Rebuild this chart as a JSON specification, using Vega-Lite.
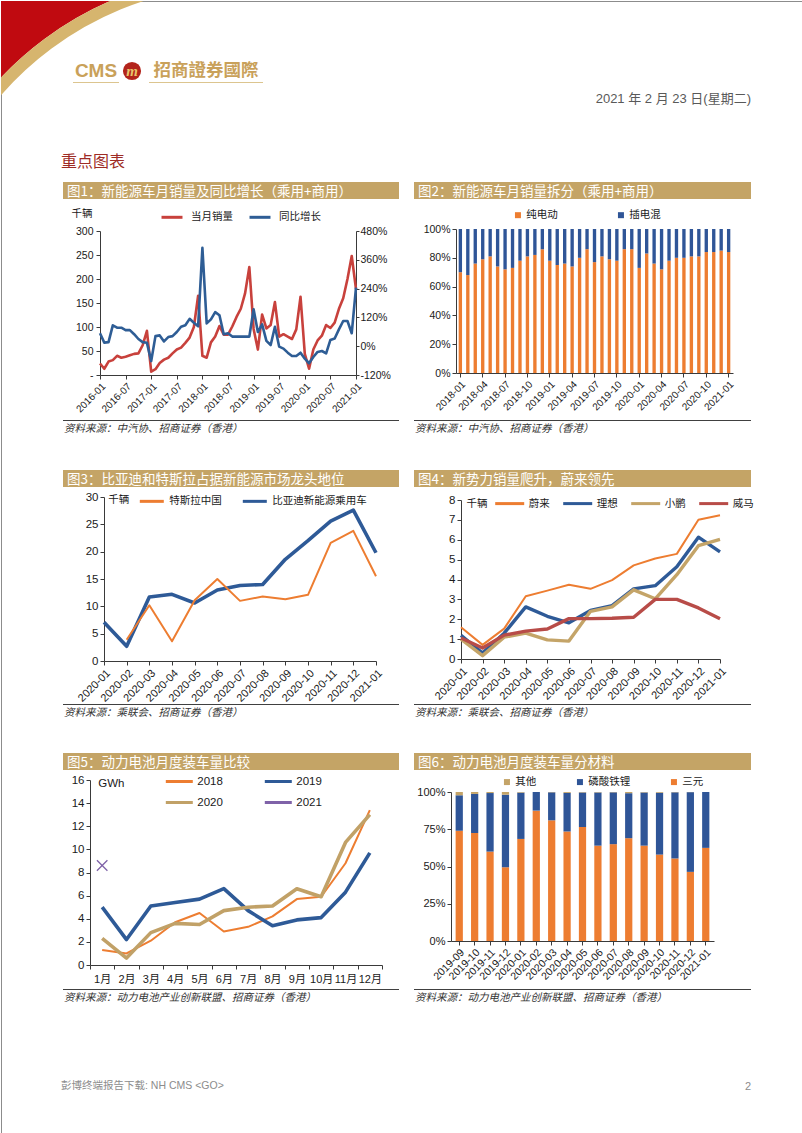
{
"$schema": "https://vega.github.io/schema/vega-lite/v6.json",
"padding": 0,
"background": "white",
"config": {
  "view": {"stroke": null},
  "font": "Liberation Sans, Noto Sans CJK SC",
  "axis": {"labelFont": "Liberation Sans", "labelColor": "#1a1a1a", "domainColor": "#3a3a3a", "tickColor": "#3a3a3a", "grid": false, "labelFontSize": 10.5, "tickSize": 4, "labelPadding": 2, "titleFont": "Noto Sans CJK SC", "labelOverlap": false},
  "legend": {"labelFont": "Noto Sans CJK SC", "labelFontSize": 10.5, "labelColor": "#1a1a1a", "titleFont": "Noto Sans CJK SC", "titleFontWeight": "normal", "titleColor": "#1a1a1a", "padding": 0},
  "title": {"font": "Noto Sans CJK SC", "fontWeight": "normal", "anchor": "start", "frame": "group"}
},
"columns": 5,
"align": "each",
"bounds": "flush",
"spacing": 0,
"resolve": {"scale": {"color": "independent"}, "legend": {"color": "independent"}},
"concat": [
  {
    "columns": 8, "align": "each", "bounds": "flush", "spacing": 0,
    "concat": [
      {"columns": 2, "bounds": "flush", "spacing": 0, "concat": [
        {"bounds": "flush", "spacing": 0, "concat": [
          {"width": 801, "height": 1132, "view": {"stroke": "#8C8C8C", "strokeWidth": 1}, "data": {"values": []}, "mark": "text"}
        ]},
        {"width": 486, "height": 614, "data": {"values": [{"part": "corner"}]}, "layer": [
          {"mark": {"type": "arc", "theta": 5.15, "theta2": 6.14, "radius": 420, "radius2": 335, "color": "#C00A10", "clip": true}},
          {"mark": {"type": "arc", "theta": 5.15, "theta2": 6.14, "radius": 335, "radius2": 323, "color": "#D6B56E", "clip": true}}
        ]}
      ]},
      {"width":12,"height":59,"data":{"values":[]},"mark":"text"},
      {"width":46,"height":1,"data":{"values":[]},"mark":"text"},
      {"width":26,"height":1,"data":{"values":[]},"mark":"text"},
      {"width":4,"height":1,"data":{"values":[]},"mark":"text"},
      {"width":114,"height":1,"data":{"values":[]},"mark":"text"},
      {"width":488,"height":1,"data":{"values":[]},"mark":"text"},
      {"width":52,"height":1,"data":{"values":[]},"mark":"text"},

      {"width":60,"height":22,"data":{"values":[]},"mark":"text"},
      {"width":12,"height":1,"data":{"values":[]},"mark":"text"},
      {"width": 46, "height": 22, "data": {"values": [{"t": "CMS"}]}, "mark": {"type": "text", "font": "Liberation Sans", "fontSize": 19, "fontWeight": "bold", "color": "#C9A15A", "baseline": "middle"}, "encoding": {"text": {"field": "t"}}},
      {"width": 26, "height": 22, "data": {"values": [{"t": "m"}]}, "layer": [
        {"mark": {"type": "circle", "size": 330, "color": "#B3241B", "opacity": 1}},
        {"mark": {"type": "text", "font": "Liberation Serif", "fontSize": 15, "fontStyle": "italic", "fontWeight": "bold", "color": "#E9C56B", "baseline": "middle"}, "encoding": {"text": {"field": "t"}}}
      ]},
      {"width":4,"height":1,"data":{"values":[]},"mark":"text"},
      {"width": 114, "height": 22, "data": {"values": [{"t": "招商證券國際"}]}, "mark": {"type": "text", "font": "Noto Sans CJK TC", "fontSize": 17.5, "fontWeight": "bold", "color": "#C9A15A", "baseline": "middle"}, "encoding": {"text": {"field": "t"}}},
      {"width":488,"height":1,"data":{"values":[]},"mark":"text"},
      {"width":52,"height":1,"data":{"values":[]},"mark":"text"},

      {"width":60,"height":1,"data":{"values":[]},"mark":"text"},
      {"width":12,"height":1,"data":{"values":[]},"mark":"text"},
      {"width":46,"height":1,"view":{"fill":"#DCC58F"},"data":{"values":[]},"mark":"text"},
      {"width":26,"height":1,"data":{"values":[]},"mark":"text"},
      {"width":4,"height":1,"data":{"values":[]},"mark":"text"},
      {"width":114,"height":1,"view":{"fill":"#DCC58F"},"data":{"values":[]},"mark":"text"},
      {"width":488,"height":1,"data":{"values":[]},"mark":"text"},
      {"width":52,"height":1,"data":{"values":[]},"mark":"text"},

      {"width":60,"height":23,"data":{"values":[]},"mark":"text"},
      {"width":12,"height":1,"data":{"values":[]},"mark":"text"},
      {"width":46,"height":1,"data":{"values":[]},"mark":"text"},
      {"width":26,"height":1,"data":{"values":[]},"mark":"text"},
      {"width":4,"height":1,"data":{"values":[]},"mark":"text"},
      {"width":114,"height":1,"data":{"values":[]},"mark":"text"},
      {"width":488,"height":1,"data":{"values":[]},"mark":"text"},
      {"width":52,"height":1,"data":{"values":[]},"mark":"text"},

      {"width":60,"height":64,"data":{"values":[]},"mark":"text"},
      {"width":12,"height":1,"data":{"values":[]},"mark":"text"},
      {"width":46,"height":1,"data":{"values":[]},"mark":"text"},
      {"width":26,"height":1,"data":{"values":[]},"mark":"text"},
      {"width":4,"height":1,"data":{"values":[]},"mark":"text"},
      {"width":114,"height":1,"data":{"values":[]},"mark":"text"},
      {"width":488,"height":64,"data":{"values":[]},"mark":"text","title":{"text":"2021 年 2 月 23 日(星期二)","orient":"top","anchor":"end","offset":0.5,"fontSize":13,"color":"#595959","font":"Liberation Sans, Noto Sans CJK SC"}},
      {"width":52,"height":1,"data":{"values":[]},"mark":"text"},

      {"width":60,"height":12,"data":{"values":[]},"mark":"text"},
      {"width":12,"height":12,"data":{"values":[]},"mark":"text","title":{"text":"重点图表","orient":"top","anchor":"start","offset":0,"fontSize":16,"color":"#9E2B25"}},
      {"width":46,"height":1,"data":{"values":[]},"mark":"text"},
      {"width":26,"height":1,"data":{"values":[]},"mark":"text"},
      {"width":4,"height":1,"data":{"values":[]},"mark":"text"},
      {"width":114,"height":1,"data":{"values":[]},"mark":"text"},
      {"width":488,"height":1,"data":{"values":[]},"mark":"text"},
      {"width":52,"height":1,"data":{"values":[]},"mark":"text"}
    ]
  },
  {"width":336,"height":181,"data":{"values":[]},"mark":"text"},
  {"width":15,"height":1,"data":{"values":[]},"mark":"text"},
  {"width":337,"height":1,"data":{"values":[]},"mark":"text"},
  {"width":52,"height":1,"data":{"values":[]},"mark":"text"},

  {"width":62,"height":808,"data":{"values":[]},"mark":"text"},
  {
    "vconcat": [
      {"width":336,"height":17,"view":{"fill":"#C4A466"},"data":{"values":[]},"mark":"text"},
      {"width":336,"height":32,"data":{"values":[]},"mark":"text","title":{"text":"图1：新能源车月销量及同比增长（乘用+商用）","orient":"top","offset":1,"dx":4,"color":"white","fontSize":13.5}},
      {
        "width": 293, "height": 144,
        "data": {"values": [
          {"m":"2016-01","v":24,"g":54},{"m":"2016-02","v":13,"g":15},{"m":"2016-03","v":28,"g":17},{"m":"2016-04","v":31,"g":87},{"m":"2016-05","v":40,"g":77},{"m":"2016-06","v":36,"g":77},{"m":"2016-07","v":38,"g":67},{"m":"2016-08","v":41,"g":67},{"m":"2016-09","v":44,"g":50},{"m":"2016-10","v":45,"g":30},{"m":"2016-11","v":62,"g":17},{"m":"2016-12","v":92,"g":14},
          {"m":"2017-01","v":7,"g":-62},{"m":"2017-02","v":12,"g":42},{"m":"2017-03","v":25,"g":45},{"m":"2017-04","v":32,"g":20},{"m":"2017-05","v":36,"g":38},{"m":"2017-06","v":45,"g":42},{"m":"2017-07","v":53,"g":59},{"m":"2017-08","v":57,"g":81},{"m":"2017-09","v":67,"g":87},{"m":"2017-10","v":78,"g":114},{"m":"2017-11","v":100,"g":98},{"m":"2017-12","v":165,"g":83},
          {"m":"2018-01","v":40,"g":410},{"m":"2018-02","v":36,"g":95},{"m":"2018-03","v":68,"g":112},{"m":"2018-04","v":80,"g":142},{"m":"2018-05","v":102,"g":129},{"m":"2018-06","v":84,"g":50},{"m":"2018-07","v":84,"g":54},{"m":"2018-08","v":101,"g":40},{"m":"2018-09","v":121,"g":40},{"m":"2018-10","v":138,"g":40},{"m":"2018-11","v":170,"g":40},{"m":"2018-12","v":225,"g":40},
          {"m":"2019-01","v":96,"g":154},{"m":"2019-02","v":53,"g":59},{"m":"2019-03","v":126,"g":91},{"m":"2019-04","v":97,"g":22},{"m":"2019-05","v":104,"g":5},{"m":"2019-06","v":152,"g":81},{"m":"2019-07","v":80,"g":-2},{"m":"2019-08","v":85,"g":-10},{"m":"2019-09","v":80,"g":-27},{"m":"2019-10","v":75,"g":-41},{"m":"2019-11","v":95,"g":-41},{"m":"2019-12","v":163,"g":-27},
          {"m":"2020-01","v":44,"g":-52},{"m":"2020-02","v":13,"g":-71},{"m":"2020-03","v":53,"g":-45},{"m":"2020-04","v":72,"g":-24},{"m":"2020-05","v":82,"g":-20},{"m":"2020-06","v":104,"g":-30},{"m":"2020-07","v":98,"g":26},{"m":"2020-08","v":109,"g":32},{"m":"2020-09","v":138,"g":70},{"m":"2020-10","v":160,"g":105},{"m":"2020-11","v":200,"g":105},{"m":"2020-12","v":248,"g":54},
          {"m":"2021-01","v":179,"g":244}
        ]},
        "encoding": {"x": {"field": "m", "type": "ordinal", "scale": {"type": "point", "padding": 0, "range": [37, 293]}, "axis": {"title": null, "values": ["2016-01","2016-07","2017-01","2017-07","2018-01","2018-07","2019-01","2019-07","2020-01","2020-07","2021-01"], "labelAngle": -45, "labelFontSize": 10}}},
        "layer": [
          {"mark": {"type": "line", "strokeWidth": 2.6, "strokeJoin": "round"},
           "encoding": {
             "y": {"field": "v", "type": "quantitative", "scale": {"domain": [0, 300], "nice": false, "zero": false},
                   "axis": {"offset": -37, "values": [0,50,100,150,200,250,300], "labelExpr": "datum.value === 0 ? '-' : datum.label", "labelPadding": 3, "title": "千辆", "titleAngle": 0, "titleAlign": "left", "titleBaseline": "middle", "titleX": -29, "titleY": -18, "titleFontSize": 10.5, "titleFontWeight": "normal", "titleColor": "#1a1a1a"}},
             "color": {"datum": "当月销量", "type": "nominal", "scale": {"domain": ["当月销量", "同比增长"], "range": ["#C8413C", "#2E5D95"]},
               "legend": {"orient": "none", "legendX": 97, "legendY": -25.7, "direction": "horizontal", "title": null, "symbolType": "stroke", "symbolSize": 440, "symbolStrokeWidth": 3, "labelOffset": 7, "columnPadding": 10, "labelFontSize": 10.5}}
           }},
          {"mark": {"type": "line", "strokeWidth": 2.6, "strokeJoin": "round"},
           "encoding": {
             "y": {"field": "g", "type": "quantitative", "scale": {"domain": [-120, 480], "nice": false, "zero": false},
                   "axis": {"orient": "right", "values": [-120,0,120,240,360,480], "labelExpr": "datum.value + '%'", "title": null, "tickSize": 3, "labelPadding": 1}},
             "color": {"datum": "同比增长", "type": "nominal"}
           }}
        ],
        "resolve": {"scale": {"y": "independent"}}
      },
      {"width":336,"height":45,"data":{"values":[]},"mark":"text"},
      {"width":336,"height":1,"view":{"fill":"#404040"},"data":{"values":[]},"mark":"text","title":{"text":"资料来源：中汽协、招商证券（香港）","orient":"bottom","offset":2.5,"dx":1,"fontSize":10.5,"fontStyle":"italic","color":"#333333"}},
      {"width":336,"height":49,"data":{"values":[]},"mark":"text"},
      {"width":336,"height":17,"view":{"fill":"#C4A466"},"data":{"values":[]},"mark":"text"},
      {"width":336,"height":10,"data":{"values":[]},"mark":"text","title":{"text":"图3：比亚迪和特斯拉占据新能源市场龙头地位","orient":"top","offset":1,"dx":4,"color":"white","fontSize":13.5}},
      {
        "width": 313, "height": 164,
        "data": {"values": [
          {"m":"2020-01","s":"比亚迪新能源乘用车","v":7.1},{"m":"2020-02","s":"比亚迪新能源乘用车","v":2.7},{"m":"2020-03","s":"比亚迪新能源乘用车","v":11.7},{"m":"2020-04","s":"比亚迪新能源乘用车","v":12.2},{"m":"2020-05","s":"比亚迪新能源乘用车","v":10.6},{"m":"2020-06","s":"比亚迪新能源乘用车","v":13.0},{"m":"2020-07","s":"比亚迪新能源乘用车","v":13.8},{"m":"2020-08","s":"比亚迪新能源乘用车","v":14.0},{"m":"2020-09","s":"比亚迪新能源乘用车","v":18.6},{"m":"2020-10","s":"比亚迪新能源乘用车","v":22.0},{"m":"2020-11","s":"比亚迪新能源乘用车","v":25.6},{"m":"2020-12","s":"比亚迪新能源乘用车","v":27.6},{"m":"2021-01","s":"比亚迪新能源乘用车","v":19.8},
          {"m":"2020-02","s":"特斯拉中国","v":3.9},{"m":"2020-03","s":"特斯拉中国","v":10.2},{"m":"2020-04","s":"特斯拉中国","v":3.6},{"m":"2020-05","s":"特斯拉中国","v":11.1},{"m":"2020-06","s":"特斯拉中国","v":15.0},{"m":"2020-07","s":"特斯拉中国","v":11.0},{"m":"2020-08","s":"特斯拉中国","v":11.8},{"m":"2020-09","s":"特斯拉中国","v":11.3},{"m":"2020-10","s":"特斯拉中国","v":12.1},{"m":"2020-11","s":"特斯拉中国","v":21.6},{"m":"2020-12","s":"特斯拉中国","v":23.8},{"m":"2021-01","s":"特斯拉中国","v":15.5}
        ]},
        "mark": {"type": "line", "strokeJoin": "round"},
        "encoding": {
          "x": {"field": "m", "type": "ordinal", "scale": {"type": "point", "padding": 0, "range": [41, 313]}, "axis": {"title": null, "labelAngle": -45, "labelFontSize": 11}},
          "y": {"field": "v", "type": "quantitative", "scale": {"domain": [0, 30], "nice": false}, "axis": {"offset": -41, "values": [0,5,10,15,20,25,30], "labelFontSize": 11.5, "title": "千辆", "titleAngle": 0, "titleAlign": "left", "titleBaseline": "middle", "titleX": 3.7, "titleY": 2.3, "titleFontSize": 10.5, "titleFontWeight": "normal", "titleColor": "#1a1a1a"}},
          "color": {"field": "s", "type": "nominal", "scale": {"domain": ["特斯拉中国", "比亚迪新能源乘用车"], "range": ["#ED7D31", "#2E5A97"]},
            "legend": {"orient": "none", "legendX": 75.3, "legendY": -9.4, "direction": "horizontal", "title": null, "symbolType": "stroke", "symbolSize": 576, "symbolStrokeWidth": 3, "labelOffset": 4, "columnPadding": 14, "labelFontSize": 10.5}},
          "strokeWidth": {"condition": {"test": "datum.s === '比亚迪新能源乘用车'", "value": 3.6}, "value": 2}
        }
      },
      {"width":336,"height":43,"data":{"values":[]},"mark":"text"},
      {"width":336,"height":1,"view":{"fill":"#404040"},"data":{"values":[]},"mark":"text","title":{"text":"资料来源：乘联会、招商证券（香港）","orient":"bottom","offset":2.5,"dx":1,"fontSize":10.5,"fontStyle":"italic","color":"#333333"}},
      {"width":336,"height":48,"data":{"values":[]},"mark":"text"},
      {"width":336,"height":17,"view":{"fill":"#C4A466"},"data":{"values":[]},"mark":"text"},
      {"width":336,"height":10,"data":{"values":[]},"mark":"text","title":{"text":"图5：动力电池月度装车量比较","orient":"top","offset":1,"dx":4,"color":"white","fontSize":13.5}},
      {
        "width": 319, "height": 185,
        "data": {"values": [
          {"mo":"1月","yr":"2018","v":1.3},{"mo":"2月","yr":"2018","v":1.0},{"mo":"3月","yr":"2018","v":2.1},{"mo":"4月","yr":"2018","v":3.7},{"mo":"5月","yr":"2018","v":4.5},{"mo":"6月","yr":"2018","v":2.9},{"mo":"7月","yr":"2018","v":3.3},{"mo":"8月","yr":"2018","v":4.2},{"mo":"9月","yr":"2018","v":5.7},{"mo":"10月","yr":"2018","v":5.9},{"mo":"11月","yr":"2018","v":8.8},{"mo":"12月","yr":"2018","v":13.4},
          {"mo":"1月","yr":"2019","v":5.0},{"mo":"2月","yr":"2019","v":2.2},{"mo":"3月","yr":"2019","v":5.1},{"mo":"4月","yr":"2019","v":5.4},{"mo":"5月","yr":"2019","v":5.7},{"mo":"6月","yr":"2019","v":6.6},{"mo":"7月","yr":"2019","v":4.7},{"mo":"8月","yr":"2019","v":3.4},{"mo":"9月","yr":"2019","v":3.9},{"mo":"10月","yr":"2019","v":4.1},{"mo":"11月","yr":"2019","v":6.3},{"mo":"12月","yr":"2019","v":9.7},
          {"mo":"1月","yr":"2020","v":2.3},{"mo":"2月","yr":"2020","v":0.6},{"mo":"3月","yr":"2020","v":2.8},{"mo":"4月","yr":"2020","v":3.6},{"mo":"5月","yr":"2020","v":3.5},{"mo":"6月","yr":"2020","v":4.7},{"mo":"7月","yr":"2020","v":5.0},{"mo":"8月","yr":"2020","v":5.1},{"mo":"9月","yr":"2020","v":6.6},{"mo":"10月","yr":"2020","v":5.9},{"mo":"11月","yr":"2020","v":10.6},{"mo":"12月","yr":"2020","v":13.0},
          {"mo":"1月","yr":"2021","v":8.6}
        ]},
        "encoding": {
          "x": {"field": "mo", "type": "ordinal", "scale": {"type": "band", "domain": ["1月","2月","3月","4月","5月","6月","7月","8月","9月","10月","11月","12月"], "paddingInner": 0, "paddingOuter": 0, "range": [27, 319]}, "axis": {"title": null, "labelAngle": 0, "labelFontSize": 11, "tickBand": "extent", "labelFont": "Liberation Sans, Noto Sans CJK SC", "labelPadding": 4}},
          "y": {"field": "v", "type": "quantitative", "scale": {"domain": [0, 16], "nice": false}, "axis": {"offset": -27, "values": [0,2,4,6,8,10,12,14,16], "labelFontSize": 11.5, "title": "GWh", "titleFont": "Liberation Sans", "titleAngle": 0, "titleAlign": "left", "titleBaseline": "middle", "titleX": 7.7, "titleY": 3.3, "titleFontSize": 11.5, "titleFontWeight": "normal", "titleColor": "#1a1a1a"}},
          "color": {"field": "yr", "type": "nominal", "scale": {"domain": ["2018","2019","2020","2021"], "range": ["#ED7D31","#2E5A97","#C1A167","#7F62A8"]},
            "legend": {"orient": "none", "legendX": 101.3, "legendY": -13.5, "direction": "horizontal", "columns": 2, "title": null, "labelFont": "Liberation Sans", "labelFontSize": 11.5, "symbolType": "stroke", "symbolSize": 729, "symbolStrokeWidth": 3, "labelOffset": 3, "columnPadding": 35, "rowPadding": 0}}
        },
        "layer": [
          {"transform": [{"filter": "datum.yr !== '2021'"}], "mark": {"type": "line", "strokeJoin": "round"}, "encoding": {"strokeWidth": {"condition": {"test": "datum.yr === '2018'", "value": 2}, "value": 3.6}}},
          {"transform": [{"filter": "datum.yr === '2021'"}], "mark": {"type": "point", "shape": "M-1,-1L1,1M1,-1L-1,1", "filled": false, "size": 110, "strokeWidth": 1.3, "opacity": 1}}
        ]
      },
      {"width":336,"height":24,"data":{"values":[]},"mark":"text"},
      {"width":336,"height":1,"view":{"fill":"#404040"},"data":{"values":[]},"mark":"text","title":{"text":"资料来源：动力电池产业创新联盟、招商证券（香港）","orient":"bottom","offset":2.5,"dx":1,"fontSize":10.5,"fontStyle":"italic","color":"#333333"}}
    ],
    "bounds": "flush", "spacing": 0,
    "resolve": {"scale": {"color": "independent"}, "legend": {"color": "independent"}}
  },
  {"width":15,"height":1,"data":{"values":[]},"mark":"text"},
  {
    "vconcat": [
      {"width":337,"height":17,"view":{"fill":"#C4A466"},"data":{"values":[]},"mark":"text"},
      {"width":337,"height":30,"data":{"values":[]},"mark":"text","title":{"text":"图2：新能源车月销量拆分（乘用+商用）","orient":"top","offset":1,"dx":4,"color":"white","fontSize":13.5}},
      {
        "width": 319, "height": 144,
        "data": {"values": [
          {"m":"2018-01","t":"纯电动","v":70,"k":1},{"m":"2018-01","t":"插电混","v":30,"k":2},
          {"m":"2018-02","t":"纯电动","v":68,"k":1},{"m":"2018-02","t":"插电混","v":32,"k":2},
          {"m":"2018-03","t":"纯电动","v":76,"k":1},{"m":"2018-03","t":"插电混","v":24,"k":2},
          {"m":"2018-04","t":"纯电动","v":79,"k":1},{"m":"2018-04","t":"插电混","v":21,"k":2},
          {"m":"2018-05","t":"纯电动","v":81,"k":1},{"m":"2018-05","t":"插电混","v":19,"k":2},
          {"m":"2018-06","t":"纯电动","v":74,"k":1},{"m":"2018-06","t":"插电混","v":26,"k":2},
          {"m":"2018-07","t":"纯电动","v":72,"k":1},{"m":"2018-07","t":"插电混","v":28,"k":2},
          {"m":"2018-08","t":"纯电动","v":73,"k":1},{"m":"2018-08","t":"插电混","v":27,"k":2},
          {"m":"2018-09","t":"纯电动","v":78,"k":1},{"m":"2018-09","t":"插电混","v":22,"k":2},
          {"m":"2018-10","t":"纯电动","v":81,"k":1},{"m":"2018-10","t":"插电混","v":19,"k":2},
          {"m":"2018-11","t":"纯电动","v":82,"k":1},{"m":"2018-11","t":"插电混","v":18,"k":2},
          {"m":"2018-12","t":"纯电动","v":86,"k":1},{"m":"2018-12","t":"插电混","v":14,"k":2},
          {"m":"2019-01","t":"纯电动","v":78,"k":1},{"m":"2019-01","t":"插电混","v":22,"k":2},
          {"m":"2019-02","t":"纯电动","v":75,"k":1},{"m":"2019-02","t":"插电混","v":25,"k":2},
          {"m":"2019-03","t":"纯电动","v":76,"k":1},{"m":"2019-03","t":"插电混","v":24,"k":2},
          {"m":"2019-04","t":"纯电动","v":74,"k":1},{"m":"2019-04","t":"插电混","v":26,"k":2},
          {"m":"2019-05","t":"纯电动","v":80,"k":1},{"m":"2019-05","t":"插电混","v":20,"k":2},
          {"m":"2019-06","t":"纯电动","v":86,"k":1},{"m":"2019-06","t":"插电混","v":14,"k":2},
          {"m":"2019-07","t":"纯电动","v":77,"k":1},{"m":"2019-07","t":"插电混","v":23,"k":2},
          {"m":"2019-08","t":"纯电动","v":81,"k":1},{"m":"2019-08","t":"插电混","v":19,"k":2},
          {"m":"2019-09","t":"纯电动","v":79,"k":1},{"m":"2019-09","t":"插电混","v":21,"k":2},
          {"m":"2019-10","t":"纯电动","v":78,"k":1},{"m":"2019-10","t":"插电混","v":22,"k":2},
          {"m":"2019-11","t":"纯电动","v":86,"k":1},{"m":"2019-11","t":"插电混","v":14,"k":2},
          {"m":"2019-12","t":"纯电动","v":86,"k":1},{"m":"2019-12","t":"插电混","v":14,"k":2},
          {"m":"2020-01","t":"纯电动","v":73,"k":1},{"m":"2020-01","t":"插电混","v":27,"k":2},
          {"m":"2020-02","t":"纯电动","v":83,"k":1},{"m":"2020-02","t":"插电混","v":17,"k":2},
          {"m":"2020-03","t":"纯电动","v":76,"k":1},{"m":"2020-03","t":"插电混","v":24,"k":2},
          {"m":"2020-04","t":"纯电动","v":72,"k":1},{"m":"2020-04","t":"插电混","v":28,"k":2},
          {"m":"2020-05","t":"纯电动","v":78,"k":1},{"m":"2020-05","t":"插电混","v":22,"k":2},
          {"m":"2020-06","t":"纯电动","v":80,"k":1},{"m":"2020-06","t":"插电混","v":20,"k":2},
          {"m":"2020-07","t":"纯电动","v":80,"k":1},{"m":"2020-07","t":"插电混","v":20,"k":2},
          {"m":"2020-08","t":"纯电动","v":81,"k":1},{"m":"2020-08","t":"插电混","v":19,"k":2},
          {"m":"2020-09","t":"纯电动","v":81,"k":1},{"m":"2020-09","t":"插电混","v":19,"k":2},
          {"m":"2020-10","t":"纯电动","v":84,"k":1},{"m":"2020-10","t":"插电混","v":16,"k":2},
          {"m":"2020-11","t":"纯电动","v":84,"k":1},{"m":"2020-11","t":"插电混","v":16,"k":2},
          {"m":"2020-12","t":"纯电动","v":85,"k":1},{"m":"2020-12","t":"插电混","v":15,"k":2},
          {"m":"2021-01","t":"纯电动","v":84,"k":1},{"m":"2021-01","t":"插电混","v":16,"k":2}
        ]},
        "mark": {"type": "bar"},
        "encoding": {
          "x": {"field": "m", "type": "ordinal", "scale": {"paddingInner": 0.55, "paddingOuter": 0.36, "range": [42, 319]}, "axis": {"title": null, "values": ["2018-01","2018-04","2018-07","2018-10","2019-01","2019-04","2019-07","2019-10","2020-01","2020-04","2020-07","2020-10","2021-01"], "labelAngle": -45, "labelFontSize": 10}},
          "y": {"field": "v", "type": "quantitative", "stack": "zero", "scale": {"domain": [0, 100], "nice": false}, "axis": {"offset": -42, "title": null, "values": [0,20,40,60,80,100], "labelExpr": "datum.value + '%'"}},
          "color": {"field": "t", "type": "nominal", "scale": {"domain": ["纯电动", "插电混"], "range": ["#ED7D31", "#2F5597"]},
            "legend": {"orient": "none", "legendX": 98.7, "legendY": -19.2, "direction": "horizontal", "title": null, "symbolType": "square", "symbolSize": 36, "labelOffset": 3, "columnPadding": 58, "labelFontSize": 10.5}},
          "order": {"field": "k", "type": "quantitative"}
        }
      },
      {"width":337,"height":47,"data":{"values":[]},"mark":"text"},
      {"width":337,"height":1,"view":{"fill":"#404040"},"data":{"values":[]},"mark":"text","title":{"text":"资料来源：中汽协、招商证券（香港）","orient":"bottom","offset":2.5,"dx":1,"fontSize":10.5,"fontStyle":"italic","color":"#333333"}},
      {"width":337,"height":49,"data":{"values":[]},"mark":"text"},
      {"width":337,"height":17,"view":{"fill":"#C4A466"},"data":{"values":[]},"mark":"text"},
      {"width":337,"height":13,"data":{"values":[]},"mark":"text","title":{"text":"图4：新势力销量爬升，蔚来领先","orient":"top","offset":1,"dx":4,"color":"white","fontSize":13.5}},
      {
        "width": 306, "height": 159,
        "data": {"values": [
          {"m":"2020-01","s":"蔚来","v":1.6},{"m":"2020-02","s":"蔚来","v":0.71},{"m":"2020-03","s":"蔚来","v":1.53},{"m":"2020-04","s":"蔚来","v":3.16},{"m":"2020-05","s":"蔚来","v":3.44},{"m":"2020-06","s":"蔚来","v":3.74},{"m":"2020-07","s":"蔚来","v":3.53},{"m":"2020-08","s":"蔚来","v":3.97},{"m":"2020-09","s":"蔚来","v":4.71},{"m":"2020-10","s":"蔚来","v":5.06},{"m":"2020-11","s":"蔚来","v":5.29},{"m":"2020-12","s":"蔚来","v":7.01},{"m":"2021-01","s":"蔚来","v":7.23},
          {"m":"2020-01","s":"理想","v":1.19},{"m":"2020-02","s":"理想","v":0.3},{"m":"2020-03","s":"理想","v":1.3},{"m":"2020-04","s":"理想","v":2.62},{"m":"2020-05","s":"理想","v":2.15},{"m":"2020-06","s":"理想","v":1.82},{"m":"2020-07","s":"理想","v":2.44},{"m":"2020-08","s":"理想","v":2.69},{"m":"2020-09","s":"理想","v":3.53},{"m":"2020-10","s":"理想","v":3.69},{"m":"2020-11","s":"理想","v":4.64},{"m":"2020-12","s":"理想","v":6.13},{"m":"2021-01","s":"理想","v":5.39},
          {"m":"2020-01","s":"小鹏","v":1.0},{"m":"2020-02","s":"小鹏","v":0.17},{"m":"2020-03","s":"小鹏","v":1.1},{"m":"2020-04","s":"小鹏","v":1.3},{"m":"2020-05","s":"小鹏","v":0.96},{"m":"2020-06","s":"小鹏","v":0.9},{"m":"2020-07","s":"小鹏","v":2.4},{"m":"2020-08","s":"小鹏","v":2.62},{"m":"2020-09","s":"小鹏","v":3.48},{"m":"2020-10","s":"小鹏","v":3.03},{"m":"2020-11","s":"小鹏","v":4.24},{"m":"2020-12","s":"小鹏","v":5.7},{"m":"2021-01","s":"小鹏","v":6.02},
          {"m":"2020-01","s":"威马","v":1.06},{"m":"2020-02","s":"威马","v":0.55},{"m":"2020-03","s":"威马","v":1.2},{"m":"2020-04","s":"威马","v":1.4},{"m":"2020-05","s":"威马","v":1.51},{"m":"2020-06","s":"威马","v":2.03},{"m":"2020-07","s":"威马","v":2.03},{"m":"2020-08","s":"威马","v":2.05},{"m":"2020-09","s":"威马","v":2.1},{"m":"2020-10","s":"威马","v":3.0},{"m":"2020-11","s":"威马","v":3.0},{"m":"2020-12","s":"威马","v":2.57},{"m":"2021-01","s":"威马","v":2.03}
        ]},
        "mark": {"type": "line", "strokeJoin": "round"},
        "encoding": {
          "x": {"field": "m", "type": "ordinal", "scale": {"type": "point", "padding": 0, "range": [47, 306]}, "axis": {"title": null, "labelAngle": -45, "labelFontSize": 11}},
          "y": {"field": "v", "type": "quantitative", "scale": {"domain": [0, 8], "nice": false}, "axis": {"offset": -47, "values": [0,1,2,3,4,5,6,7,8], "labelFontSize": 11.5, "title": "千辆", "titleAngle": 0, "titleAlign": "left", "titleBaseline": "middle", "titleX": 5, "titleY": 3.3, "titleFontSize": 10.5, "titleFontWeight": "normal", "titleColor": "#1a1a1a"}},
          "color": {"field": "s", "type": "nominal", "scale": {"domain": ["蔚来", "理想", "小鹏", "威马"], "range": ["#ED7D31", "#2E5A97", "#C4A468", "#B84C48"]},
            "legend": {"orient": "none", "legendX": 79.7, "legendY": -12.4, "direction": "horizontal", "title": null, "symbolType": "stroke", "symbolSize": 841, "symbolStrokeWidth": 3, "labelOffset": 3, "columnPadding": 7, "labelFontSize": 10.5}},
          "strokeWidth": {"condition": {"test": "datum.s === '蔚来'", "value": 2}, "value": 3.4}
        }
      },
      {"width":337,"height":45,"data":{"values":[]},"mark":"text"},
      {"width":337,"height":1,"view":{"fill":"#404040"},"data":{"values":[]},"mark":"text","title":{"text":"资料来源：乘联会、招商证券（香港）","orient":"bottom","offset":2.5,"dx":1,"fontSize":10.5,"fontStyle":"italic","color":"#333333"}},
      {"width":337,"height":48,"data":{"values":[]},"mark":"text"},
      {"width":337,"height":17,"view":{"fill":"#C4A466"},"data":{"values":[]},"mark":"text"},
      {"width":337,"height":22,"data":{"values":[]},"mark":"text","title":{"text":"图6：动力电池月度装车量分材料","orient":"top","offset":1,"dx":4,"color":"white","fontSize":13.5}},
      {
        "width": 300, "height": 149,
        "data": {"values": [
          {"m":"2019-09","t":"三元","v":74,"k":1},{"m":"2019-09","t":"磷酸铁锂","v":23.8,"k":2},{"m":"2019-09","t":"其他","v":2.2,"k":3},
          {"m":"2019-10","t":"三元","v":72.5,"k":1},{"m":"2019-10","t":"磷酸铁锂","v":26.2,"k":2},{"m":"2019-10","t":"其他","v":1.3,"k":3},
          {"m":"2019-11","t":"三元","v":60,"k":1},{"m":"2019-11","t":"磷酸铁锂","v":39.3,"k":2},{"m":"2019-11","t":"其他","v":0.7,"k":3},
          {"m":"2019-12","t":"三元","v":49.5,"k":1},{"m":"2019-12","t":"磷酸铁锂","v":48.7,"k":2},{"m":"2019-12","t":"其他","v":1.8,"k":3},
          {"m":"2020-01","t":"三元","v":68.5,"k":1},{"m":"2020-01","t":"磷酸铁锂","v":31.1,"k":2},{"m":"2020-01","t":"其他","v":0.4,"k":3},
          {"m":"2020-02","t":"三元","v":87.5,"k":1},{"m":"2020-02","t":"磷酸铁锂","v":12.5,"k":2},{"m":"2020-02","t":"其他","v":0,"k":3},
          {"m":"2020-03","t":"三元","v":81,"k":1},{"m":"2020-03","t":"磷酸铁锂","v":18.8,"k":2},{"m":"2020-03","t":"其他","v":0.2,"k":3},
          {"m":"2020-04","t":"三元","v":73.5,"k":1},{"m":"2020-04","t":"磷酸铁锂","v":25.9,"k":2},{"m":"2020-04","t":"其他","v":0.6,"k":3},
          {"m":"2020-05","t":"三元","v":76.5,"k":1},{"m":"2020-05","t":"磷酸铁锂","v":23.2,"k":2},{"m":"2020-05","t":"其他","v":0.3,"k":3},
          {"m":"2020-06","t":"三元","v":64,"k":1},{"m":"2020-06","t":"磷酸铁锂","v":35.7,"k":2},{"m":"2020-06","t":"其他","v":0.3,"k":3},
          {"m":"2020-07","t":"三元","v":65,"k":1},{"m":"2020-07","t":"磷酸铁锂","v":34.8,"k":2},{"m":"2020-07","t":"其他","v":0.2,"k":3},
          {"m":"2020-08","t":"三元","v":69,"k":1},{"m":"2020-08","t":"磷酸铁锂","v":30.2,"k":2},{"m":"2020-08","t":"其他","v":0.8,"k":3},
          {"m":"2020-09","t":"三元","v":64,"k":1},{"m":"2020-09","t":"磷酸铁锂","v":35.7,"k":2},{"m":"2020-09","t":"其他","v":0.3,"k":3},
          {"m":"2020-10","t":"三元","v":58,"k":1},{"m":"2020-10","t":"磷酸铁锂","v":41.5,"k":2},{"m":"2020-10","t":"其他","v":0.5,"k":3},
          {"m":"2020-11","t":"三元","v":55.4,"k":1},{"m":"2020-11","t":"磷酸铁锂","v":44.4,"k":2},{"m":"2020-11","t":"其他","v":0.2,"k":3},
          {"m":"2020-12","t":"三元","v":46.4,"k":1},{"m":"2020-12","t":"磷酸铁锂","v":53.5,"k":2},{"m":"2020-12","t":"其他","v":0.1,"k":3},
          {"m":"2021-01","t":"三元","v":62.5,"k":1},{"m":"2021-01","t":"磷酸铁锂","v":37.5,"k":2},{"m":"2021-01","t":"其他","v":0,"k":3}
        ]},
        "mark": {"type": "bar"},
        "encoding": {
          "x": {"field": "m", "type": "ordinal", "scale": {"paddingInner": 0.53, "paddingOuter": 0.3, "range": [37, 300]}, "axis": {"title": null, "labelAngle": -45, "labelFontSize": 10.5}},
          "y": {"field": "v", "type": "quantitative", "stack": "zero", "scale": {"domain": [0, 100], "nice": false}, "axis": {"offset": -37, "title": null, "values": [0,25,50,75,100], "labelExpr": "datum.value + '%'", "labelFontSize": 11}},
          "color": {"field": "t", "type": "nominal", "scale": {"domain": ["其他", "磷酸铁锂", "三元"], "range": ["#C4A468", "#2F5597", "#ED7D31"]},
            "legend": {"orient": "none", "legendX": 87.7, "legendY": -15.3, "direction": "horizontal", "title": null, "symbolType": "square", "symbolSize": 36, "labelOffset": 3, "columnPadding": 38, "labelFontSize": 10.5}},
          "order": {"field": "k", "type": "quantitative"}
        }
      },
      {"width":337,"height":48,"data":{"values":[]},"mark":"text"},
      {"width":337,"height":1,"view":{"fill":"#404040"},"data":{"values":[]},"mark":"text","title":{"text":"资料来源：动力电池产业创新联盟、招商证券（香港）","orient":"bottom","offset":2.5,"dx":1,"fontSize":10.5,"fontStyle":"italic","color":"#333333"}}
    ],
    "bounds": "flush", "spacing": 0,
    "resolve": {"scale": {"color": "independent"}, "legend": {"color": "independent"}}
  },
  {"width":52,"height":1,"data":{"values":[]},"mark":"text"},

  {"width":62,"height":102,"data":{"values":[]},"mark":"text"},
  {"width":336,"height":1,"data":{"values":[]},"mark":"text"},
  {"width":15,"height":1,"data":{"values":[]},"mark":"text"},
  {"width":337,"height":1,"data":{"values":[]},"mark":"text"},
  {"width":52,"height":1,"data":{"values":[]},"mark":"text"},

  {"width":62,"height":42,"data":{"values":[]},"mark":"text"},
  {"width":336,"height":42,"data":{"values":[]},"mark":"text","title":{"text":"彭博终端报告下载: NH CMS <GO>","orient":"top","anchor":"start","offset":0.5,"dx":-2,"fontSize":10.5,"color":"#8C8C8C","font":"Liberation Sans, Noto Sans CJK SC"}},
  {"width":15,"height":1,"data":{"values":[]},"mark":"text"},
  {"width":337,"height":42,"data":{"values":[]},"mark":"text","title":{"text":"2","orient":"top","anchor":"end","offset":0.5,"fontSize":11,"color":"#8C8C8C","font":"Liberation Sans"}},
  {"width":52,"height":1,"data":{"values":[]},"mark":"text"}
]
}
